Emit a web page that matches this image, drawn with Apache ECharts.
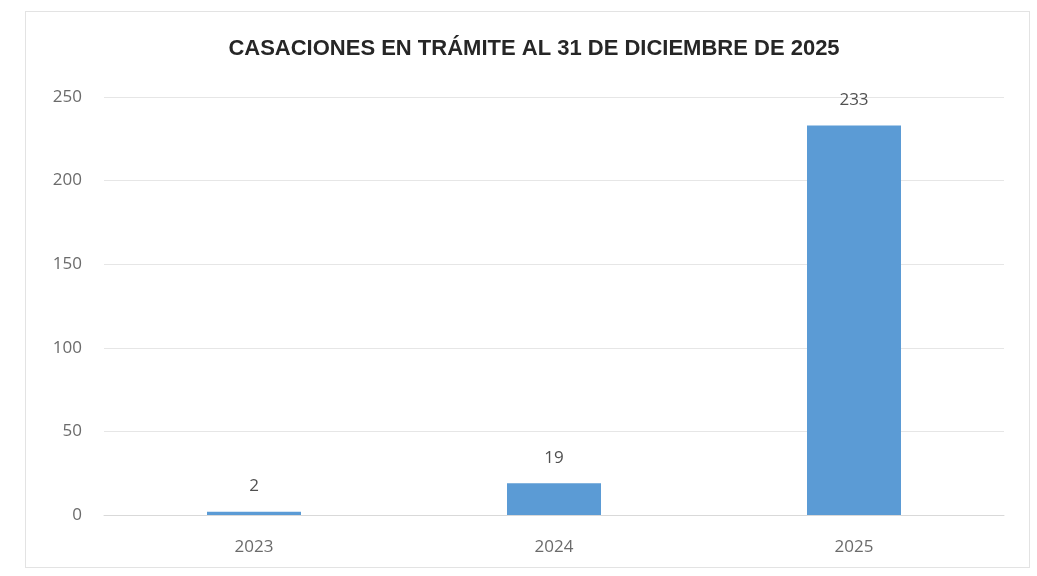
<!DOCTYPE html>
<html>
<head>
<meta charset="utf-8">
<script src="https://cdn.jsdelivr.net/npm/echarts@6/dist/echarts.min.js"></script>
<style>
html,body{margin:0;padding:0;background:#fff;}
#frame{position:absolute;left:25px;top:11px;width:1005px;height:557px;border:1px solid #e3e3e3;box-sizing:border-box;}
#c{position:absolute;left:0;top:0;width:1037px;height:576px;}
</style>
</head>
<body>
<div id="frame"></div>
<div id="c"></div>
<script>
const titleText = 'CASACIONES EN TRÁMITE AL 31 DE DICIEMBRE DE 2025';
const categories = ['2023', '2024', '2025'];
const values = [2, 19, 233];
const yTicks = [0, 50, 100, 150, 200, 250];

const chart = echarts.init(document.getElementById('c'), null, {renderer: 'canvas'});
chart.setOption({
  backgroundColor: 'transparent',
  animation: false,
  title: {
    text: titleText,
    left: 529,
    textAlign: 'center',
    top: 33,
    textStyle: {fontFamily: 'Liberation Sans', fontWeight: 'bold', fontSize: 22, color: '#262626'}
  },
  grid: {left: 104, right: 33, top: 97, bottom: 61, containLabel: false},
  xAxis: {
    type: 'category',
    data: categories,
    axisLine: {show: true, lineStyle: {color: '#d9d9d9', width: 1}},
    axisTick: {show: false},
    axisLabel: {color: '#6b6b6b', fontSize: 17, fontFamily: 'Open Sans', margin: 24}
  },
  yAxis: {
    type: 'value',
    min: yTicks[0],
    max: yTicks[yTicks.length - 1],
    interval: 50,
    axisLine: {show: false},
    axisTick: {show: false},
    splitLine: {lineStyle: {color: '#e6e6e6', width: 1}},
    axisLabel: {color: '#6b6b6b', fontSize: 17, fontFamily: 'Open Sans', margin: 22}
  },
  series: [{
    type: 'bar',
    data: values,
    barWidth: 94,
    itemStyle: {color: '#5B9BD5'},
    label: {show: true, position: 'top', distance: 17, color: '#505050', fontSize: 17, fontFamily: 'Open Sans'}
  }]
});
</script>
</body>
</html>
